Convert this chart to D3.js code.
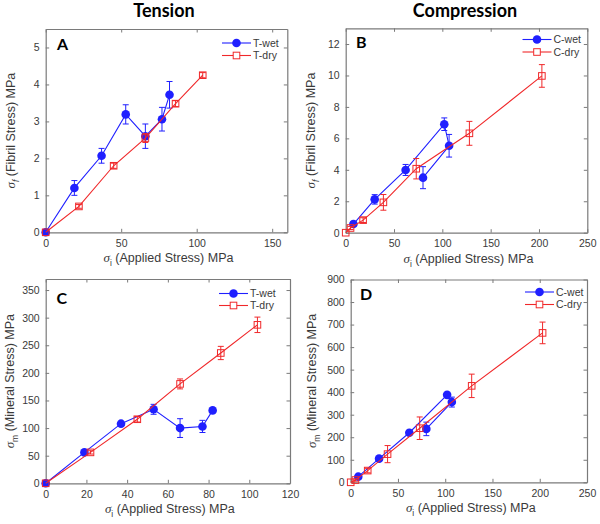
<!DOCTYPE html>
<html><head><meta charset="utf-8">
<script src="https://cdn.jsdelivr.net/npm/d3@7"></script>
<style>body{margin:0;background:#fff}svg{display:block}</style>
</head><body>
<script>
// ---- data ----
const tWetX = [0, 19, 37, 53, 66, 77, 82];
const tWetFibril = [0, 1.2, 2.07, 3.19, 2.6, 3.06, 3.72];
const tWetFibrilErr = [0, 0.2, 0.2, 0.26, 0.33, 0.32, 0.36];
const tDryX = [0, 22, 45, 66, 86, 104];
const tDryFibril = [0, 0.70, 1.80, 2.55, 3.48, 4.25];
const tDryFibrilErr = [0, 0.05, 0.07, 0.12, 0.08, 0.07];
const tWetMineral = [0, 56, 108, 134, 100, 103, 132];
const tWetMineralErr = [0, 3, 4, 9, 17, 11, 3];
const tDryMineral = [0, 56, 116, 180, 236, 287];
const tDryMineralErr = [0, 3, 5, 9, 12, 14];
const cWetX = [8, 30, 62, 102, 107, 80];
const cWetFibril = [0.55, 2.12, 3.99, 6.9, 5.53, 3.5];
const cWetFibrilErr = [0.15, 0.3, 0.35, 0.4, 0.72, 0.7];
const cDryX = [0, 5, 18, 39, 73, 128, 203];
const cDryFibril = [0, 0.3, 0.8, 1.93, 4.07, 6.32, 9.97];
const cDryFibrilErr = [0, 0.1, 0.15, 0.5, 0.65, 0.76, 0.72];
const cWetMineral = [25, 105, 220, 388, 356, 237];
const cWetMineralErr = [10, 8, 10, 10, 22, 30];
const cDryMineral = [0, 10, 52, 125, 240, 428, 663];
const cDryMineralErr = [0, 5, 10, 38, 50, 52, 48];

const columnTitles = ["Tension", "Compression"];
const panelLetters = ["A", "B", "C", "D"];
const tensionLegend = ["T-wet", "T-dry"];
const compressionLegend = ["C-wet", "C-dry"];
const ticksA_x = [0, 50, 100, 150], ticksA_y = [0, 1, 2, 3, 4, 5];
const ticksB_x = [0, 50, 100, 150, 200, 250], ticksB_y = [0, 2, 4, 6, 8, 10, 12];
const ticksC_x = [0, 20, 40, 60, 80, 100, 120], ticksC_y = [0, 50, 100, 150, 200, 250, 300, 350];
const ticksD_x = [0, 50, 100, 150, 200, 250], ticksD_y = [0, 100, 200, 300, 400, 500, 600, 700, 800, 900];

const BLUE = "#1f1fff", RED = "#f0282a", AXC = "#7a7a7a", TXT = "#3a3a3a";

const svg = d3.select("body").append("svg").attr("width", 600).attr("height", 524);

svg.selectAll("text.coltitle").data(columnTitles).enter().append("text")
  .attr("x", (d, i) => i === 0 ? 164 : 465).attr("y", 17)
  .attr("text-anchor", "middle").attr("font-family", "Lato, 'Open Sans', sans-serif")
  .attr("font-weight", "bold").attr("font-size", 18).attr("fill", "#000").text(d => d);

const panels = [
  {x0: 45.7, x1: 287.3, y0: 29, y1: 232.3, xd: [0, 160], yd: [0, 5.5], xt: ticksA_x, yt: ticksA_y,
   letter: panelLetters[0], lx: 57, ly: 50, sub: "f", ylab: " (Fibril Stress) MPa", legend: tensionLegend,
   legX: 222, legY: [43, 55.5], ylx: 15,
   wet: {x: tWetX, y: tWetFibril, e: tWetFibrilErr}, dry: {x: tDryX, y: tDryFibril, e: tDryFibrilErr}},
  {x0: 345.7, x1: 587.3, y0: 28.3, y1: 232.7, xd: [0, 250], yd: [0, 13], xt: ticksB_x, yt: ticksB_y,
   letter: panelLetters[1], lx: 356, ly: 48, sub: "f", ylab: " (Fibril Stress) MPa", legend: compressionLegend,
   legX: 522.5, legY: [39.5, 52], ylx: 315,
   wet: {x: cWetX, y: cWetFibril, e: cWetFibrilErr}, dry: {x: cDryX, y: cDryFibril, e: cDryFibrilErr}},
  {x0: 45.7, x1: 290, y0: 279, y1: 483.3, xd: [0, 120], yd: [0, 370], xt: ticksC_x, yt: ticksC_y,
   letter: panelLetters[2], lx: 56.5, ly: 304, sub: "m", ylab: " (Mineral Stress) MPa", legend: tensionLegend,
   legX: 219, legY: [293.5, 305.5], ylx: 14,
   wet: {x: tWetX, y: tWetMineral, e: tWetMineralErr}, dry: {x: tDryX, y: tDryMineral, e: tDryMineralErr}},
  {x0: 350.7, x1: 587, y0: 279.5, y1: 482.3, xd: [0, 250], yd: [0, 900], xt: ticksD_x, yt: ticksD_y,
   letter: panelLetters[3], lx: 360, ly: 300, sub: "m", ylab: " (Mineral Stress) MPa", legend: compressionLegend,
   legX: 525, legY: [292, 304.5], ylx: 316,
   wet: {x: cWetX, y: cWetMineral, e: cWetMineralErr}, dry: {x: cDryX, y: cDryMineral, e: cDryMineralErr}}
];

panels.forEach(p => {
  const x = d3.scaleLinear().domain(p.xd).range([p.x0, p.x1]);
  const y = d3.scaleLinear().domain(p.yd).range([p.y1, p.y0]);
  const g = svg.append("g");
  const font = "'Liberation Sans', Arial, sans-serif";
  const fmt = d3.format("d");

  const axB = g.append("g").attr("transform", `translate(0,${p.y1})`)
    .call(d3.axisBottom(x).tickValues(p.xt).tickFormat(fmt).tickSizeInner(-3.5).tickSizeOuter(0).tickPadding(7));
  const axL = g.append("g").attr("transform", `translate(${p.x0},0)`)
    .call(d3.axisLeft(y).tickValues(p.yt).tickFormat(fmt).tickSizeInner(-3.5).tickSizeOuter(0).tickPadding(6));
  const axT = g.append("g").attr("transform", `translate(0,${p.y0})`)
    .call(d3.axisTop(x).tickValues(p.xt).tickSizeInner(-3.5).tickSizeOuter(0).tickFormat(""));
  const axR = g.append("g").attr("transform", `translate(${p.x1},0)`)
    .call(d3.axisRight(y).tickValues(p.yt).tickSizeInner(-3.5).tickSizeOuter(0).tickFormat(""));
  [axB, axL, axT, axR].forEach(a => {
    a.selectAll("path.domain").attr("stroke", AXC).attr("stroke-width", 1.2);
    a.selectAll(".tick line").attr("stroke", AXC).attr("stroke-width", 1);
    a.selectAll(".tick text").attr("font-family", font).attr("font-size", 10.5).attr("fill", TXT);
  });

  const xl = g.append("text").attr("x", (p.x0 + p.x1) / 2 + 2).attr("y", p.y1 + 30)
    .attr("text-anchor", "middle").attr("font-family", font).attr("font-size", 12.5).attr("fill", TXT);
  xl.append("tspan").attr("font-style", "italic").attr("font-family", "'Liberation Serif', serif").attr("font-size", 13).text("σ");
  xl.append("tspan").attr("dy", 4).attr("font-size", 8.5).text("i");
  xl.append("tspan").attr("dy", -4).text(" (Applied Stress) MPa");

  const yl = g.append("text").attr("transform", `translate(${p.ylx},${(p.y0 + p.y1) / 2}) rotate(-90)`)
    .attr("text-anchor", "middle").attr("font-family", font).attr("font-size", 12.5).attr("fill", TXT);
  yl.append("tspan").attr("font-style", "italic").attr("font-family", "'Liberation Serif', serif").attr("font-size", 13).text("σ");
  yl.append("tspan").attr("dy", 4).attr("font-size", 8.5).attr("font-style", p.sub === "f" ? "italic" : "normal").text(p.sub);
  yl.append("tspan").attr("dy", -4).text(p.ylab);

  g.append("text").attr("x", p.lx).attr("y", p.ly).attr("font-family", "Lato, 'Open Sans', sans-serif")
    .attr("font-weight", "bold").attr("font-size", 16).attr("fill", "#000").text(p.letter);

  const line = d3.line().x(d => x(d[0])).y(d => y(d[1]));
  function series(s, color, kind) {
    const pts = s.x.map((v, i) => [v, s.y[i], s.e[i]]);
    g.append("path").datum(pts).attr("d", line).attr("fill", "none").attr("stroke", color).attr("stroke-width", 1.1);
    const eb = g.append("g").attr("stroke", color).attr("stroke-width", 1);
    pts.filter(d => d[2] > 0).forEach(d => {
      const cx = x(d[0]), yt = y(d[1] + d[2]), yb = y(d[1] - d[2]);
      eb.append("line").attr("x1", cx).attr("x2", cx).attr("y1", yt).attr("y2", yb);
      eb.append("line").attr("x1", cx - 3).attr("x2", cx + 3).attr("y1", yt).attr("y2", yt);
      eb.append("line").attr("x1", cx - 3).attr("x2", cx + 3).attr("y1", yb).attr("y2", yb);
    });
    if (kind === "circle") {
      g.selectAll(null).data(pts).enter().append("circle")
        .attr("cx", d => x(d[0])).attr("cy", d => y(d[1])).attr("r", 4.3).attr("fill", color);
    } else {
      g.selectAll(null).data(pts).enter().append("rect")
        .attr("x", d => x(d[0]) - 3.3).attr("y", d => y(d[1]) - 3.3).attr("width", 6.6).attr("height", 6.6)
        .attr("fill", "none").attr("stroke", color).attr("stroke-width", 1);
    }
  }
  series(p.wet, BLUE, "circle");
  series(p.dry, RED, "square");

  p.legend.forEach((name, i) => {
    const ly = p.legY[i], color = i === 0 ? BLUE : RED;
    g.append("line").attr("x1", p.legX).attr("x2", p.legX + 29).attr("y1", ly).attr("y2", ly)
      .attr("stroke", color).attr("stroke-width", 1.1);
    if (i === 0) g.append("circle").attr("cx", p.legX + 14.5).attr("cy", ly).attr("r", 4.3).attr("fill", color);
    else g.append("rect").attr("x", p.legX + 11.2).attr("y", ly - 3.3).attr("width", 6.6).attr("height", 6.6)
      .attr("fill", "#fff").attr("stroke", color);
    g.append("text").attr("x", p.legX + 31).attr("y", ly + 3.8).attr("font-family", font)
      .attr("font-size", 10.5).attr("fill", TXT).text(name);
  });
});
</script>
</body></html>
